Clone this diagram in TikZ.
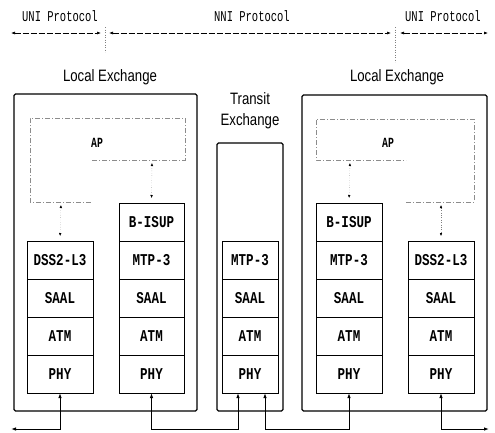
\documentclass[tikz,border=0pt]{standalone}
\usepackage{fontspec}
\usepackage{graphicx}
\usetikzlibrary{arrows.meta}
\newfontfamily\monof{Liberation Mono}
\newfontfamily\sansf{Liberation Sans}
\newcommand\toplab[1]{\scalebox{0.7}[1]{\monof\fontsize{15}{15}\selectfont #1}}
\newcommand\lyr[1]{\scalebox{0.76}[1]{\monof\bfseries\fontsize{16.5}{16.5}\selectfont #1}}
\newcommand\aplab[1]{\scalebox{0.7}[1]{\monof\bfseries\fontsize{14}{14}\selectfont #1}}
\newcommand\exlab[1]{\scalebox{0.8}[1]{\sansf\fontsize{16.5}{16.5}\selectfont #1}}
\tikzset{
  exbox/.style={draw=black, line width=1.1pt, rounded corners=1.5pt},
  layer/.style={draw=black, line width=0.7pt, minimum height=38pt, inner sep=0pt, outer sep=0pt},
  apline/.style={draw=black!45, line width=0.6pt, dash pattern=on 5pt off 2pt on 1pt off 2pt},
  proto/.style={line width=0.6pt, dash pattern=on 6pt off 2pt, {Latex[length=4pt,width=3pt]}-{Latex[length=4pt,width=3pt]}},
  bound/.style={draw=black!50, line width=0.5pt, dotted},
  link/.style={line width=0.9pt, {Latex[length=5pt,width=3.5pt]}-{Latex[length=5pt,width=3.5pt]}},
  apar/.style={line width=0.4pt, draw=black!50, dotted, shorten <=3pt, shorten >=5pt,
    {Latex[length=3pt,width=2.5pt,black]}-{Latex[length=3pt,width=2.5pt,black]}},
}
\begin{document}
\begin{tikzpicture}[x=1pt, y=-1pt]
\useasboundingbox (0,0) rectangle (495,432);

% protocol headings and their extents
\node (uni1) at (60,16) {\toplab{UNI Protocol}};
\node (nni) at (252,16) {\toplab{NNI Protocol}};
\node (uni2) at (443,16) {\toplab{UNI Protocol}};
\coordinate (u1a) at (11,33); \coordinate (u1b) at (101,33);
\coordinate (na) at (109,33); \coordinate (nb) at (391,33);
\coordinate (u2a) at (400,33); \coordinate (u2b) at (488,33);
\draw[proto] (u1a) -- (u1b);
\draw[proto] (na) -- (nb);
\draw[proto] (u2a) -- (u2b);
\coordinate (b1t) at (105,27); \coordinate (b1b) at (105,52);
\coordinate (b2t) at (395,27); \coordinate (b2b) at (395,62);
\draw[bound] (b1t) -- (b1b);
\draw[bound] (b2t) -- (b2b);

% exchange frames
\node (lexl) at (110,77) {\exlab{Local Exchange}};
\node (rexl) at (397,77) {\exlab{Local Exchange}};
\node (texl1) at (250,99) {\exlab{Transit}};
\node (texl2) at (250,121) {\exlab{Exchange}};
\draw[exbox] (14,94) rectangle (197,411);
\draw[exbox] (217,143) rectangle (283,411);
\draw[exbox] (302,95) rectangle (487,411);

% application part areas
\draw[apline] (92,160) -- (185,160) -- (185,118) -- (30,118) -- (30,202) -- (92,202);
\node (apl) at (97,143) {\aplab{AP}};
\draw[apline] (406,202) -- (474,202) -- (474,119) -- (316,119) -- (316,160) -- (406,160);
\node (apr) at (388,143) {\aplab{AP}};

% left local exchange: user side stack
\node[layer, minimum width=66pt] (ldss) at (60,260) {\lyr{DSS2-L3}};
\node[layer, minimum width=66pt] (lsaal) at (60,298) {\lyr{SAAL}};
\node[layer, minimum width=66pt] (latm) at (60,336) {\lyr{ATM}};
\node[layer, minimum width=66pt] (lphy) at (60,374) {\lyr{PHY}};
% left local exchange: network side stack
\node[layer, minimum width=65pt] (lisup) at (151.5,222) {\lyr{B-ISUP}};
\node[layer, minimum width=65pt] (lmtp) at (151.5,260) {\lyr{MTP-3}};
\node[layer, minimum width=65pt] (lnsaal) at (151.5,298) {\lyr{SAAL}};
\node[layer, minimum width=65pt] (lnatm) at (151.5,336) {\lyr{ATM}};
\node[layer, minimum width=65pt] (lnphy) at (151.5,374) {\lyr{PHY}};

% transit exchange stack
\node[layer, minimum width=56pt] (tmtp) at (250,260) {\lyr{MTP-3}};
\node[layer, minimum width=56pt] (tsaal) at (250,298) {\lyr{SAAL}};
\node[layer, minimum width=56pt] (tatm) at (250,336) {\lyr{ATM}};
\node[layer, minimum width=56pt] (tphy) at (250,374) {\lyr{PHY}};

% right local exchange: network side stack
\node[layer, minimum width=66pt] (risup) at (349,222) {\lyr{B-ISUP}};
\node[layer, minimum width=66pt] (rmtp) at (349,260) {\lyr{MTP-3}};
\node[layer, minimum width=66pt] (rnsaal) at (349,298) {\lyr{SAAL}};
\node[layer, minimum width=66pt] (rnatm) at (349,336) {\lyr{ATM}};
\node[layer, minimum width=66pt] (rnphy) at (349,374) {\lyr{PHY}};
% right local exchange: user side stack
\node[layer, minimum width=66pt] (rdss) at (441,260) {\lyr{DSS2-L3}};
\node[layer, minimum width=66pt] (rsaal) at (441,298) {\lyr{SAAL}};
\node[layer, minimum width=66pt] (ratm) at (441,336) {\lyr{ATM}};
\node[layer, minimum width=66pt] (rphy) at (441,374) {\lyr{PHY}};

% AP to signalling stacks
\coordinate (apl1) at (61,202);
\coordinate (apl2) at (152,160);
\coordinate (apr1) at (350,160);
\coordinate (apr2) at (441,202);
\draw[apar] (apl1) -- (ldss.north);
\draw[apar] (apl2) -- (lisup.north);
\draw[apar] (apr1) -- (risup.north);
\draw[apar] (apr2) -- (rdss.north);

% physical links
\coordinate (lend) at (11,429);
\coordinate (rend) at (489,429);
\draw[link] (lend) -| (lphy.south);
\draw[link] (lnphy.south) -- ++(0,36) -| ([xshift=-12pt]tphy.south);
\draw[link] ([xshift=15pt]tphy.south) -- ++(0,36) -| (rnphy.south);
\draw[link] (rphy.south) |- (rend);
\end{tikzpicture}
\end{document}
